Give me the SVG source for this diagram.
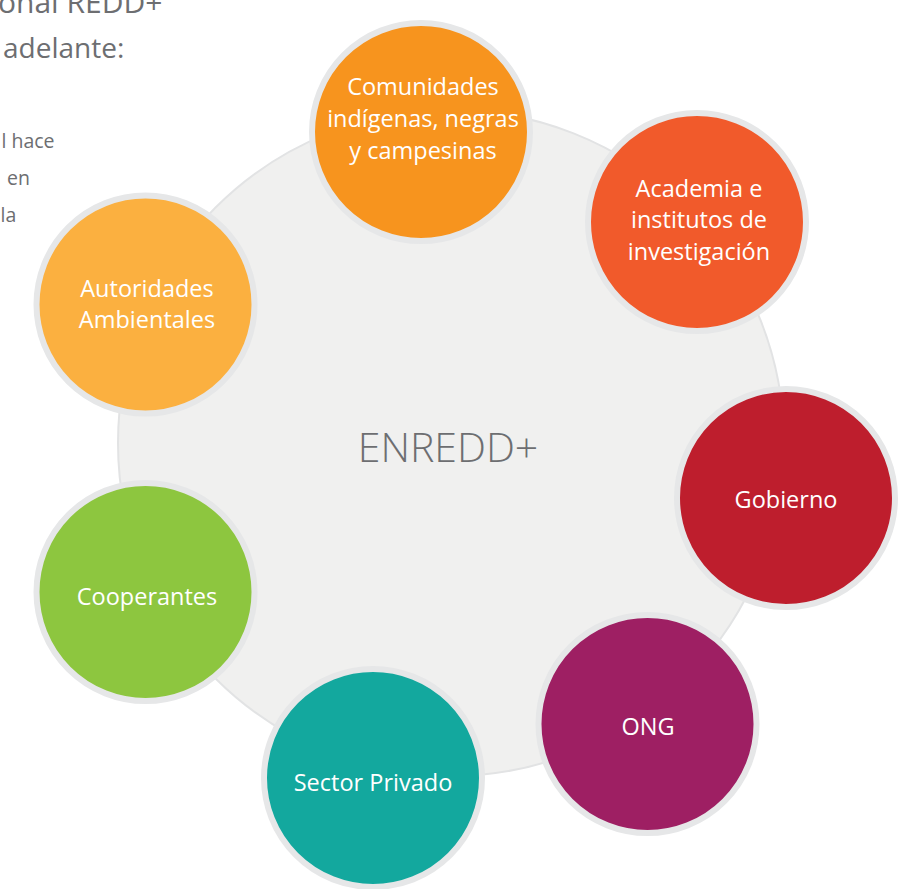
<svg xmlns="http://www.w3.org/2000/svg" width="902" height="889" viewBox="0 0 902 889">
<style>
.ring{stroke:#e6e7e8;stroke-width:6}
.lbl{font-family:"Open Sans","Noto Sans","Liberation Sans",sans-serif;font-size:23.5px;fill:#ffffff;text-anchor:middle}
.body{font-family:"Open Sans","Noto Sans","Liberation Sans",sans-serif;fill:#6d6e71}
</style>
<rect width="902" height="889" fill="#ffffff"/>
<g id="page-text" class="body">
<text x="-2" y="13" font-size="30">onal REDD+</text>
<text x="3" y="58" font-size="28">adelante:</text>
<text x="1.5" y="148" font-size="19.5">l hace</text>
<text x="7" y="185" font-size="19.5">en</text>
<text x="0.5" y="222" font-size="19.5">la</text>
</g>
<g id="center">
<circle cx="451" cy="443" r="333" fill="#f0f0ef" stroke="#e2e3e4" stroke-width="2"/>
<text x="448" y="462" font-family="'Open Sans','Noto Sans','Liberation Sans',sans-serif" font-size="41" font-weight="300" fill="#6d6e71" text-anchor="middle">ENREDD+</text>
</g>
<g id="connectors"/>
<g id="comunidades">
<circle class="ring" cx="421" cy="132" r="109" fill="#f7941e"/>
<text class="lbl" x="423" y="95">Comunidades</text>
<text class="lbl" x="423" y="127">indígenas, negras</text>
<text class="lbl" x="423" y="159">y campesinas</text>
</g>
<g id="academia">
<circle class="ring" cx="697" cy="222" r="109" fill="#f15a2b"/>
<text class="lbl" x="699" y="197">Academia e</text>
<text class="lbl" x="699" y="228">institutos de</text>
<text class="lbl" x="699" y="260">investigación</text>
</g>
<g id="gobierno">
<circle class="ring" cx="786" cy="498" r="109" fill="#be1e2d"/>
<text class="lbl" x="786" y="508">Gobierno</text>
</g>
<g id="ong">
<circle class="ring" cx="647.5" cy="724" r="109" fill="#9e1f63"/>
<text class="lbl" x="648" y="735">ONG</text>
</g>
<g id="sector-privado">
<circle class="ring" cx="373" cy="778" r="109" fill="#13a89e"/>
<text class="lbl" x="373" y="791">Sector Privado</text>
</g>
<g id="cooperantes">
<circle class="ring" cx="145.5" cy="592" r="109" fill="#8dc63f"/>
<text class="lbl" x="147" y="605">Cooperantes</text>
</g>
<g id="autoridades">
<circle class="ring" cx="145.5" cy="304.5" r="109" fill="#fbb040"/>
<text class="lbl" x="147" y="297">Autoridades</text>
<text class="lbl" x="147" y="328">Ambientales</text>
</g>
</svg>
